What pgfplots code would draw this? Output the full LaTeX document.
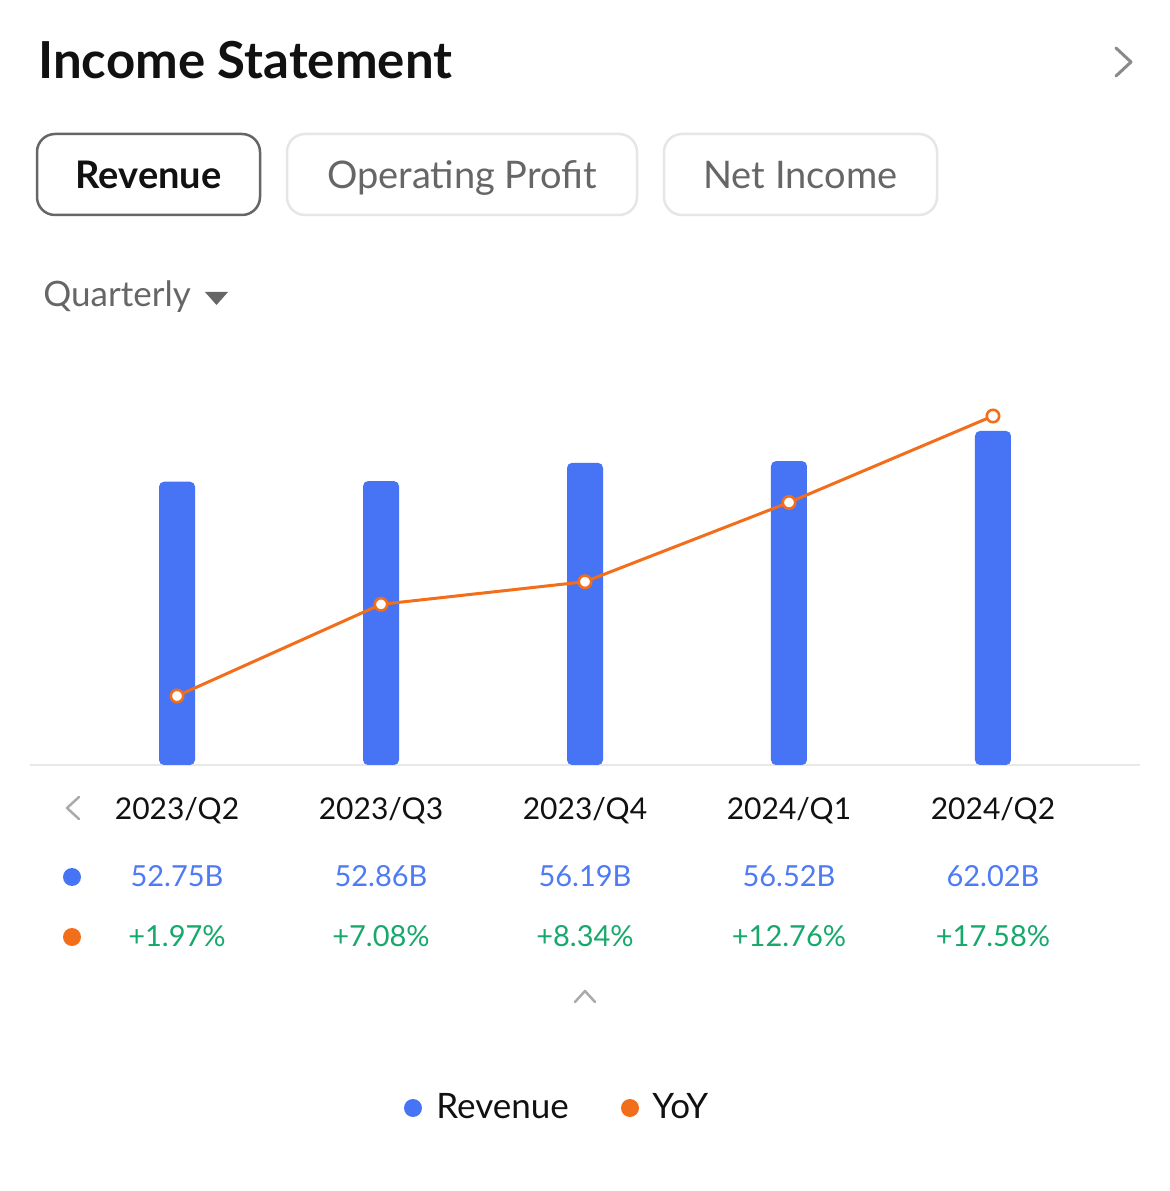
\documentclass[border=0pt]{standalone}
\usepackage{pgfplots}
\pgfplotsset{compat=1.18}
\usepackage{fontspec}
\setmainfont{Lato}
\definecolor{barblue}{HTML}{4774F4}
\definecolor{lineorange}{HTML}{F26E1A}
\definecolor{valblue}{HTML}{4E7BF5}
\definecolor{posgreen}{HTML}{17A96B}
\definecolor{titleblack}{HTML}{111111}
\definecolor{btnactive}{HTML}{666666}
\definecolor{btninactive}{HTML}{E6E6E6}
\definecolor{btntext}{HTML}{666666}
\definecolor{chevgray}{HTML}{8A8A8A}
\definecolor{lightchev}{HTML}{AAAAAA}
\definecolor{linegray}{HTML}{E8E8E8}
\begin{document}
\begin{tikzpicture}
\begin{scope}[x=0.5pt,y=0.5pt]
\useasboundingbox (0,0) rectangle (1170,1191);
\fill[white] (0,0) rectangle (1170,1191);
% title
\node[anchor=base west, inner sep=0, text=titleblack, font=\fontsize{25.5}{30}\selectfont\bfseries] at (38,{1191-79}) {Income Statement};
\draw[chevgray, line width=1.5pt, line cap=round, line join=round] (1116,{1191-48}) -- (1131,{1191-62}) -- (1116,{1191-76});
% buttons
\draw[btnactive, line width=1.25pt, rounded corners=9pt] (37,{1191-134}) rectangle (260,{1191-215});
\node[anchor=base, inner sep=0, text=titleblack, font=\fontsize{19}{22}\selectfont\bfseries] at (148.5,{1191-189}) {Revenue};
\draw[btninactive, line width=1.25pt, rounded corners=9pt] (287,{1191-134}) rectangle (637,{1191-215});
\node[anchor=base, inner sep=0, text=btntext, font=\fontsize{19}{22}\selectfont] at (462,{1191-189}) {Operating Profit};
\draw[btninactive, line width=1.25pt, rounded corners=9pt] (664,{1191-134}) rectangle (937,{1191-215});
\node[anchor=base, inner sep=0, text=btntext, font=\fontsize{19}{22}\selectfont] at (800.5,{1191-189}) {Net Income};
% quarterly
\node[anchor=base west, inner sep=0, text=btntext, font=\fontsize{17.5}{20}\selectfont] at (43,{1191-307}) {Quarterly};
\fill[btntext] (205,{1191-292}) -- (228,{1191-292}) -- (216.5,{1191-305}) -- cycle;
\end{scope}
% bars
\begin{axis}[at={(15pt,213pt)}, anchor=south west, scale only axis,
  width=555pt, height=192.5pt,
  xmin=-0.7206, xmax=4.7206, ymin=1, ymax=71.33,
  axis x line*=bottom, axis y line=none,
  x axis line style={draw=linegray, line width=0.75pt, -},
  xtick={0,1,2,3,4},
  xticklabels={2023/Q2,2023/Q3,2023/Q4,2024/Q1,2024/Q2},
  major tick length=0pt, ytick=\empty,
  xticklabel style={anchor=base, yshift=-27.5pt, inner sep=0pt, text=titleblack, font=\fontsize{15}{18}\selectfont},
  clip=true]
\addplot[ybar, bar width=18pt, bar shift=0pt, fill=barblue, draw=none, rounded corners=2.5pt]
  coordinates {(0,52.75) (1,52.86) (2,56.19) (3,56.52) (4,62.02)};
\end{axis}
% yoy line
\begin{axis}[at={(15pt,213pt)}, anchor=south west, scale only axis,
  width=555pt, height=192.5pt,
  xmin=-0.7206, xmax=4.7206, ymin=-1.877, ymax=19.587,
  hide axis, clip=false]
\addplot[lineorange, line width=1.5pt, mark=*, mark size=3.1pt,
  mark options={fill=white, draw=lineorange, line width=1.3pt}]
  coordinates {(0,1.97) (1,7.08) (2,8.34) (3,12.76) (4,17.58)};
\end{axis}
\begin{scope}[x=0.5pt,y=0.5pt]
% table
\draw[lightchev, line width=1.25pt, line cap=round, line join=round] (79,{1191-797}) -- (67,{1191-808}) -- (79,{1191-819});
\fill[barblue] (72,{1191-877}) circle (9);
\fill[lineorange] (72,{1191-937}) circle (9);
\foreach \x/\v/\p in {177/52.75B/+1.97\%, 381/52.86B/+7.08\%, 585/56.19B/+8.34\%, 789/56.52B/+12.76\%, 993/62.02B/+17.58\%}{
  \node[anchor=base, inner sep=0, text=valblue, font=\fontsize{14.5}{18}\selectfont] at (\x,{1191-887}) {\v};
  \node[anchor=base, inner sep=0, text=posgreen, font=\fontsize{14.5}{18}\selectfont] at (\x,{1191-947}) {\p};
}
\draw[lightchev, line width=1.25pt, line cap=round, line join=round] (575,{1191-1002}) -- (585,{1191-991}) -- (595,{1191-1002});
% legend
\fill[barblue] (413,{1191-1108}) circle (9);
\node[anchor=base west, inner sep=0, text=titleblack, font=\fontsize{17.5}{20}\selectfont] at (436,{1191-1119}) {Revenue};
\fill[lineorange] (630,{1191-1108}) circle (9);
\node[anchor=base west, inner sep=0, text=titleblack, font=\fontsize{17.5}{20}\selectfont] at (652,{1191-1119}) {YoY};
\end{scope}
\end{tikzpicture}
\end{document}
